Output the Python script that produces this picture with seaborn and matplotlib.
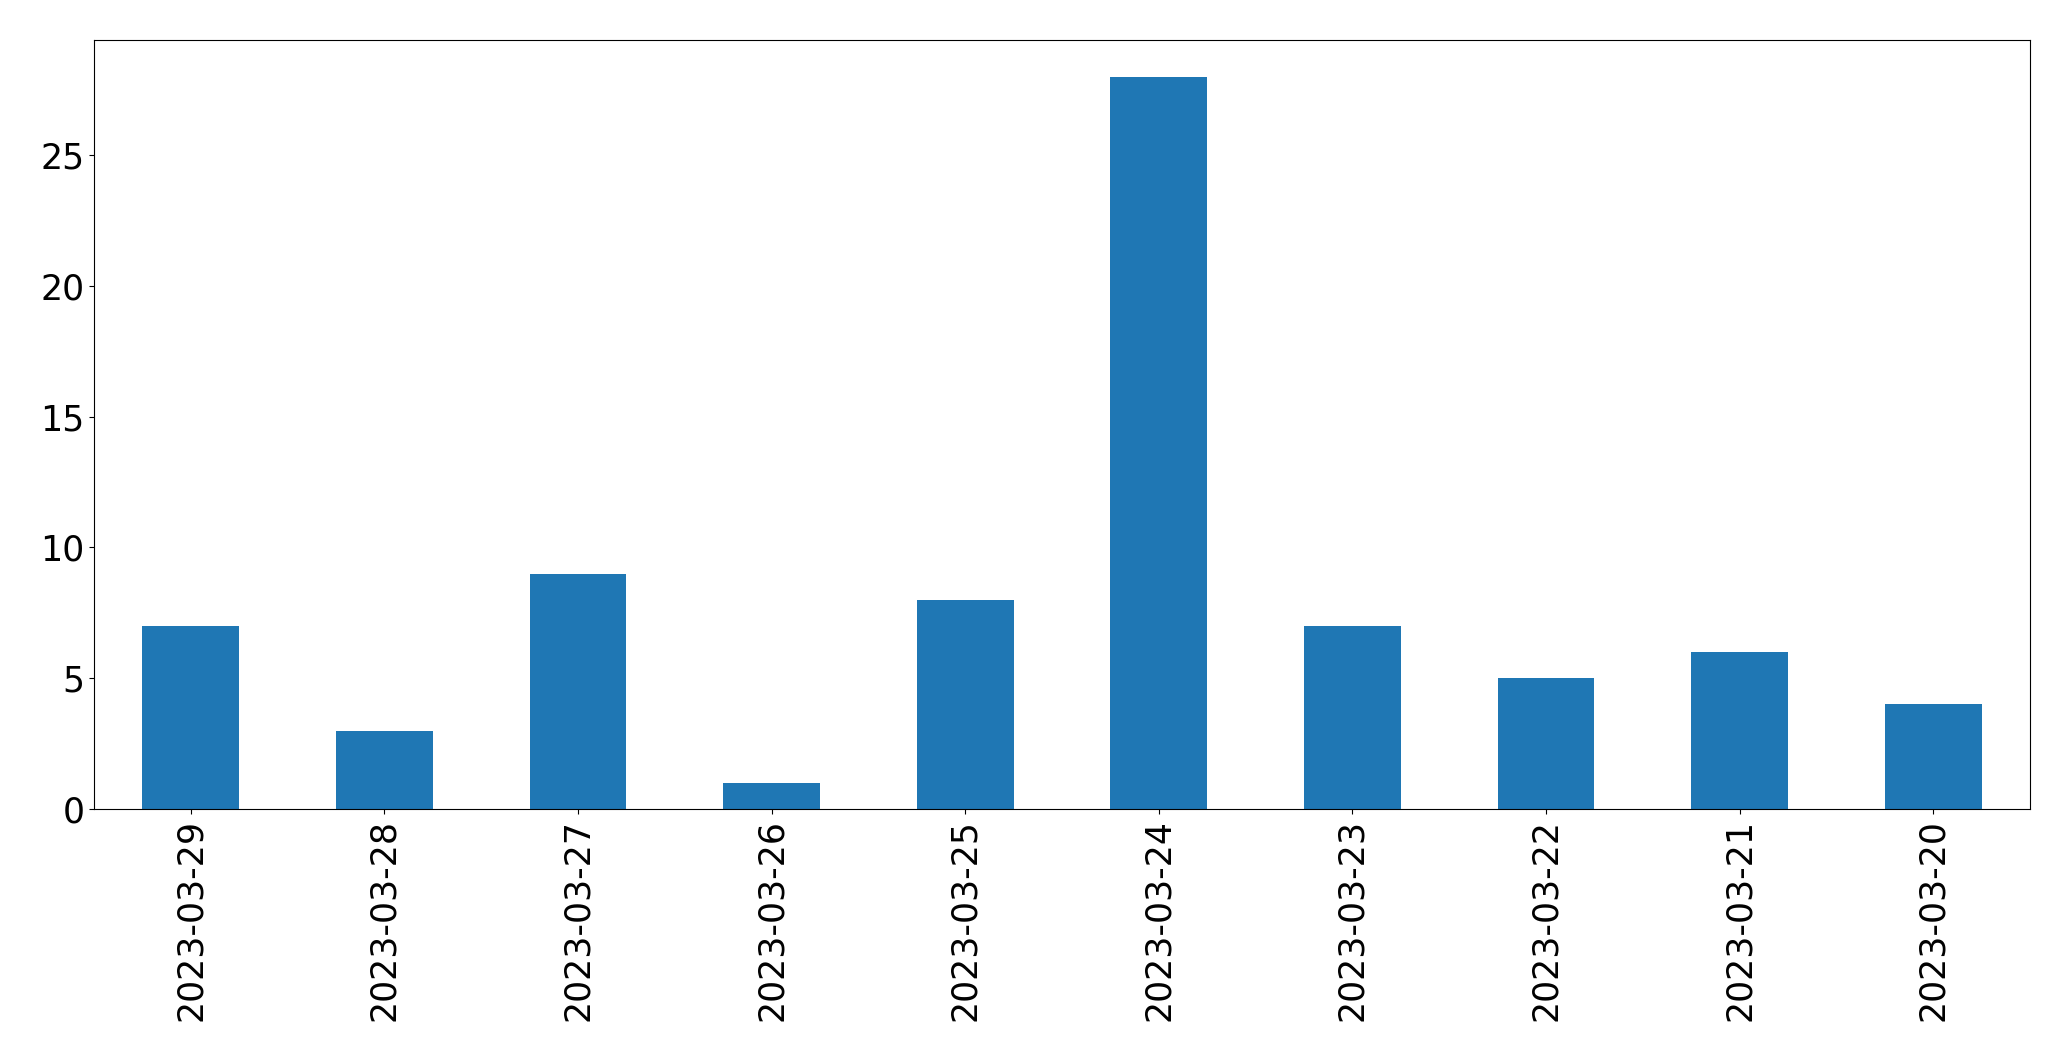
import matplotlib
matplotlib.use("Agg")
import matplotlib.pyplot as plt
import seaborn as sns

dates = [
    "2023-03-29", "2023-03-28", "2023-03-27", "2023-03-26", "2023-03-25",
    "2023-03-24", "2023-03-23", "2023-03-22", "2023-03-21", "2023-03-20",
]
counts = [7, 3, 9, 1, 8, 28, 7, 5, 6, 4]

fig = plt.figure(figsize=(20.71, 10.61), dpi=100)
ax = fig.add_axes([0.0454, 0.2375, 0.9348, 0.7248])

sns.barplot(x=dates, y=counts, color="#1f77b4", saturation=1, width=0.5,
            linewidth=0, ax=ax)

ax.set_xlim(-0.5, len(dates) - 0.5)
ax.set_ylim(0, max(counts) * 1.05)
ax.set_yticks([0, 5, 10, 15, 20, 25])
ax.tick_params(axis="both", labelsize=25)
ax.tick_params(axis="x", rotation=90)
ax.set_xlabel("")
ax.set_ylabel("")

fig.savefig("out.png", dpi=100)
